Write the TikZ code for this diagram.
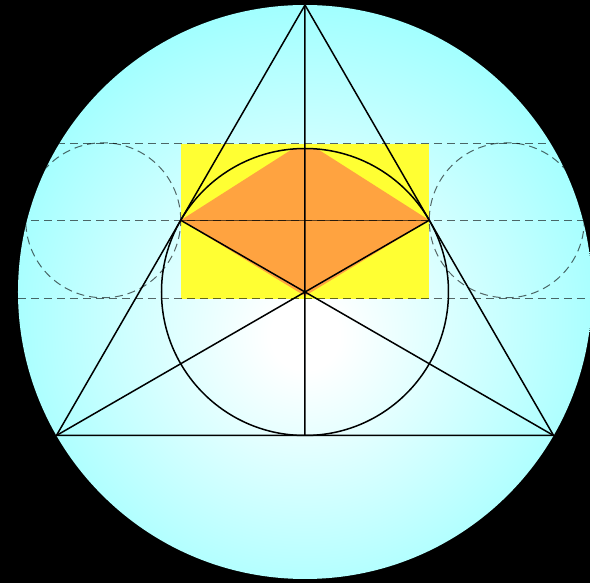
\documentclass[tikz,border=0pt]{standalone}
\usepackage{xcolor}
\usepackage{tikz}
\usetikzlibrary{calc}

\definecolor{skyglow}{RGB}{128,255,255}
\definecolor{boxyellow}{RGB}{255,255,51}
\definecolor{kiteorange}{RGB}{255,163,64}
\pgfdeclareradialshading{glow}{\pgfpoint{0bp}{-4bp}}{color(0bp)=(white); color(3bp)=(white); color(36bp)=(skyglow); color(60bp)=(skyglow)}

\begin{document}
\begin{tikzpicture}[x=1pt, y=1pt,
    edge/.style={line width=1.5pt},
    guide/.style={draw=black, draw opacity=0.6, line width=1pt, dash pattern=on 8pt off 5pt}]
    	\fill[black] (-305,-291) rectangle (285,292);
    	\useasboundingbox (-305,-291) rectangle (285,292);

    	\coordinate (O) at (0,0);
    	\coordinate (A) at (90:287);
    	\coordinate (B) at (210:287);
    	\coordinate (C) at (330:287);
    	\coordinate (AB) at ($(A)!0.5!(B)$);
    	\coordinate (AC) at ($(A)!0.5!(C)$);
    	\coordinate (BC) at ($(B)!0.5!(C)$);

    	\shade[shading=glow] (O) circle (287);
    	\fill[boxyellow] ($(AB)+(0,76.5)$) rectangle ($(AC)+(0,-78.5)$);
    	\begin{scope}
    	    \clip (O) circle (143.5);
    	    \fill[kiteorange] (AB) -- (0,151) -- (AC) -- (0,-4) -- cycle;
    	\end{scope}

    %	guides
    	\begin{scope}
    	    \clip (O) circle (287);
    	    \foreach \y in {148,71.75,-7}
    	        \draw[guide] (-300,\y) -- (300,\y);
    	    \draw[guide] ($(AB)+(-77.5,0)$) circle (77.5);
    	    \draw[guide] ($(AC)+(77.5,0)$) circle (77.5);
    	\end{scope}
    	\draw[black, draw opacity=0.6, line width=1pt] (AB) -- (AC);

    	\draw[edge] (A) -- (B) -- (C) -- cycle;
    	\draw[edge] (A) -- (BC) (B) -- (AC) (C) -- (AB);
    	\draw[edge] (O) circle (143.5);
    \end{tikzpicture}
\end{document}
